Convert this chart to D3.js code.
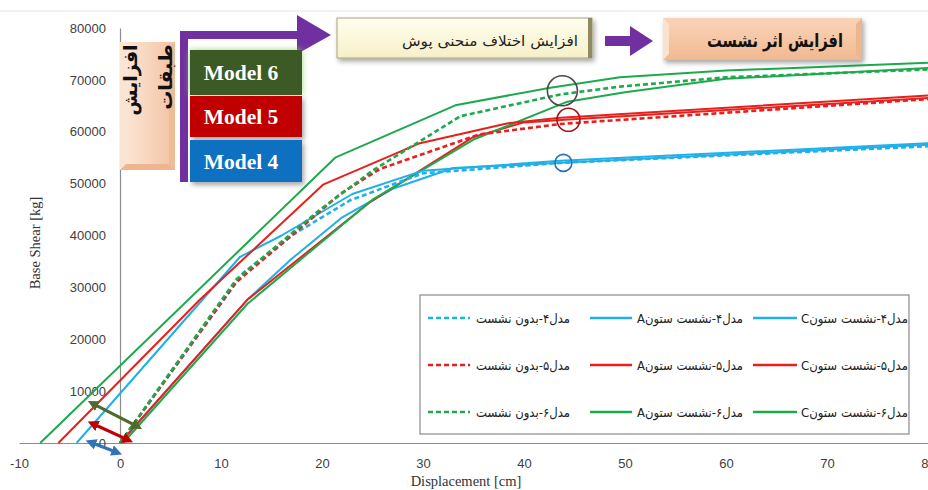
<!DOCTYPE html>
<html>
<head>
<meta charset="utf-8">
<script src="https://cdn.jsdelivr.net/npm/d3@7"></script>
<style>
  body { margin: 0; background: #fff; }
  svg { display: block; }
</style>
</head>
<body>
<svg id="chart"></svg>
<script>
// Pushover curves: [displacement (cm), base shear (kg)]
const m4None = [[0, 0], [12.2, 32800], [17, 40000], [22.8, 46800], [30, 52000], [43.6, 54000], [80, 57200]];
const m4ColA = [[-4.3, 0], [11.9, 35900], [16, 40000], [23, 48000], [30, 52500], [43.6, 54400], [80, 57800]];
const m4ColC = [[0, 0], [12.6, 27600], [17, 35500], [22, 43500], [27, 49000], [33, 53000], [43.6, 54000], [80, 57500]];

const m5None = [[0, 0], [11.5, 31000], [17, 40000], [21.8, 48000], [25.7, 52800], [35.6, 59500], [43.6, 61500], [80, 66300]];
const m5ColA = [[-6.1, 0], [7.9, 27600], [20.1, 49800], [29.7, 57800], [38.3, 61600], [43.6, 62700], [80, 67000]];
const m5ColC = [[0, 0], [12.6, 27600], [24.8, 46500], [35, 59000], [40, 61800], [44, 62300], [80, 66500]];

const m6None = [[0, 0], [11.5, 31500], [19.5, 44500], [25, 52500], [33.7, 63000], [43.6, 67200], [49.5, 68700], [60, 70500], [80, 72000]];
const m6ColA = [[-7.9, 0], [21.3, 55000], [33.2, 65100], [42.6, 68500], [49.5, 70500], [60, 71800], [80, 73300]];
const m6ColC = [[0.3, 0], [12.6, 26800], [25, 46900], [35, 58500], [44.3, 65800], [50, 67600], [60, 70200], [80, 72300]];

const xTicks = [-10, 0, 10, 20, 30, 40, 50, 60, 70, 80];
const yTicks = [0, 10000, 20000, 30000, 40000, 50000, 60000, 70000, 80000];

const legendLabels = [
  ["مدل۴-بدون نشست", "مدل۴-نشست ستونA", "مدل۴-نشست ستونC"],
  ["مدل۵-بدون نشست", "مدل۵-نشست ستونA", "مدل۵-نشست ستونC"],
  ["مدل۶-بدون نشست", "مدل۶-نشست ستونA", "مدل۶-نشست ستونC"]
];
const modelNames = ["Model 6", "Model 5", "Model 4"];

// annotation marks in data units
const circles = [[43.8, 67900, 15, "#4a4a4a"], [44.4, 62300, 11.5, "#a31515"], [43.9, 54000, 8.5, "#2e6fb0"]];
const shiftArrows = [
  [[-2.8, 7700], [1.8, 3100], "#4f6b2c"],
  [[-2.8, 3800], [0.9, 500], "#c00000"],
  [[-3.0, 200], [-0.2, -1900], "#2e75b6"]
];

const width = 928, height = 490;
const blue = "#1fb0ea", red = "#e8201c", green = "#1daa4d";

const series = [
  { data: m4ColC, color: blue, dash: null },
  { data: m5ColC, color: red, dash: null },
  { data: m6ColC, color: green, dash: null },
  { data: m4ColA, color: blue, dash: null },
  { data: m5ColA, color: red, dash: null },
  { data: m6ColA, color: green, dash: null },
  { data: m4None, color: blue, dash: "5,3" },
  { data: m5None, color: red, dash: "5,3" },
  { data: m6None, color: green, dash: "5,3" }
];

const svg = d3.select("#chart").attr("width", width).attr("height", height);

const defs = svg.append("defs");
const shadow = defs.append("filter").attr("id", "shadow").attr("x", "-20%").attr("y", "-20%").attr("width", "150%").attr("height", "160%");
shadow.append("feDropShadow").attr("dx", 2).attr("dy", 3).attr("stdDeviation", 2.5).attr("flood-opacity", 0.35);
const glow = defs.append("filter").attr("id", "glow").attr("x", "-20%").attr("y", "-30%").attr("width", "140%").attr("height", "160%");
glow.append("feDropShadow").attr("dx", 0).attr("dy", 0).attr("stdDeviation", 3).attr("flood-color", "#8fd46a").attr("flood-opacity", 0.9);

const peach = defs.append("linearGradient").attr("id", "peach").attr("x1", 0).attr("x2", 0).attr("y1", 0).attr("y2", 1);
peach.append("stop").attr("offset", "0%").attr("stop-color", "#f9d3b8");
peach.append("stop").attr("offset", "50%").attr("stop-color", "#f6c7a6");
peach.append("stop").attr("offset", "100%").attr("stop-color", "#f0b890");
const peachV = defs.append("linearGradient").attr("id", "peachV");
peachV.append("stop").attr("offset", "0%").attr("stop-color", "#fdeadb");
peachV.append("stop").attr("offset", "100%").attr("stop-color", "#f3c2a2");
const cream = defs.append("linearGradient").attr("id", "cream").attr("x1", 0).attr("x2", 0).attr("y1", 0).attr("y2", 1);
cream.append("stop").attr("offset", "0%").attr("stop-color", "#fffef0");
cream.append("stop").attr("offset", "100%").attr("stop-color", "#f6f0c8");

// top frame line
svg.append("line").attr("x1", 0).attr("x2", width).attr("y1", 11).attr("y2", 11)
  .attr("stroke", "#e4e4e4").attr("stroke-width", 1);

const x = d3.scaleLinear().domain([-10, 80]).range([19, 928]);
const y = d3.scaleLinear().domain([0, 80000]).range([443, 28]);

// axes
const xAxis = svg.append("g")
  .attr("transform", "translate(0," + y(0) + ")")
  .call(d3.axisBottom(x).tickValues(xTicks).tickSize(0).tickPadding(16).tickFormat((d) => String(d)));
const yAxis = svg.append("g")
  .attr("transform", "translate(" + x(0) + ",0)")
  .call(d3.axisLeft(y).tickValues(yTicks).tickSize(0).tickPadding(14).tickFormat((d) => String(d)));
[xAxis, yAxis].forEach((g) => {
  g.select(".domain").attr("stroke", "#8c8c8c").attr("stroke-width", 1.2);
  g.selectAll("text").attr("font-family", "'Liberation Sans', Arial, sans-serif")
    .attr("font-size", 13).attr("fill", "#404040");
});

svg.append("text")
  .attr("transform", "translate(40,243) rotate(-90)")
  .attr("text-anchor", "middle")
  .attr("font-family", "'Liberation Serif', 'Times New Roman', serif")
  .attr("font-size", 14.5).attr("fill", "#333")
  .text("Base Shear [kg]");
svg.append("text")
  .attr("x", 466).attr("y", 486)
  .attr("text-anchor", "middle")
  .attr("font-family", "'Liberation Serif', 'Times New Roman', serif")
  .attr("font-size", 14.5).attr("fill", "#333")
  .text("Displacement [cm]");

// curves
const line = d3.line().x((d) => x(d[0])).y((d) => y(d[1]));
svg.append("g").selectAll("path")
  .data(series)
  .join("path")
  .attr("d", (d) => line(d.data))
  .attr("fill", "none")
  .attr("stroke", (d) => d.color)
  .attr("stroke-width", (d) => (d.dash ? 2.6 : 2))
  .attr("stroke-dasharray", (d) => d.dash)
  .attr("stroke-linejoin", "round");

// highlight circles
svg.append("g").selectAll("circle")
  .data(circles)
  .join("circle")
  .attr("cx", (d) => x(d[0]))
  .attr("cy", (d) => y(d[1]))
  .attr("r", (d) => d[2])
  .attr("fill", "none")
  .attr("stroke", (d) => d[3])
  .attr("stroke-width", 1.6);

// double arrows showing the settlement shift
shiftArrows.forEach((a, i) => {
  const m = defs.append("marker").attr("id", "head" + i)
    .attr("viewBox", "0 0 10 10").attr("refX", 6).attr("refY", 5)
    .attr("markerWidth", 3.4).attr("markerHeight", 3.4)
    .attr("orient", "auto-start-reverse");
  m.append("path").attr("d", "M0,0L10,5L0,10z").attr("fill", a[2]);
  svg.append("line")
    .attr("x1", x(a[0][0])).attr("y1", y(a[0][1]))
    .attr("x2", x(a[1][0])).attr("y2", y(a[1][1]))
    .attr("stroke", a[2]).attr("stroke-width", 3.2)
    .attr("marker-start", "url(#head" + i + ")")
    .attr("marker-end", "url(#head" + i + ")");
});

// legend
const legend = svg.append("g").attr("transform", "translate(420,295)");
legend.append("rect").attr("width", 489).attr("height", 139)
  .attr("fill", "#fff").attr("stroke", "#8a8a8a").attr("stroke-width", 1.2);
const colColors = [blue, red, green];
const colLine = [[8, 50], [170, 212], [333, 377]];
const colTextRight = [150, 323, 488];
const colTextLen = [94, 106, 107];
legendLabels.forEach((row, r) => {
  const ry = 23 + r * 47;
  row.forEach((label, c) => {
    legend.append("line")
      .attr("x1", colLine[c][0]).attr("x2", colLine[c][1])
      .attr("y1", ry).attr("y2", ry)
      .attr("stroke", colColors[r]).attr("stroke-width", 2.4)
      .attr("stroke-dasharray", c === 0 ? "5,3" : null);
    legend.append("text")
      .attr("x", colTextRight[c]).attr("y", ry + 5)
      .attr("text-anchor", "end")
      .attr("font-family", "'DejaVu Sans', 'Noto Sans', sans-serif")
      .attr("font-size", 13).attr("fill", "#222")
      .attr("textLength", colTextLen[c]).attr("lengthAdjust", "spacingAndGlyphs")
      .text("\u202B" + label + "\u202C");
  });
});

// vertical "افزایش طبقات" box
svg.append("rect").attr("x", 120).attr("y", 42).attr("width", 55).attr("height", 128)
  .attr("fill", "url(#peachV)");
svg.append("path").attr("d", "M120,42L126,48L126,164L120,170Z").attr("fill", "#fbe4d2");
svg.append("path").attr("d", "M120,170L126,164L169,164L175,170Z").attr("fill", "#eeb58e");
svg.append("path").attr("d", "M175,42L169,48L169,164L175,170Z").attr("fill", "#f0bb97");
[["افزایش", 130, 80], ["طبقات", 165, 77]].forEach((t) => {
  svg.append("text")
    .attr("transform", "translate(" + t[1] + "," + t[2] + ") rotate(-90)")
    .attr("text-anchor", "middle").attr("dominant-baseline", "central")
    .attr("font-family", "'DejaVu Sans', sans-serif").attr("font-weight", "bold")
    .attr("font-size", 19).attr("fill", "#111")
    .text(t[0]);
});

// purple L arrow
svg.append("path")
  .attr("d", "M180,182L180,31L297,31L297,15L331,35L297,54L297,39L188,39L188,182Z")
  .attr("fill", "#7030a0");

// model boxes
const boxColors = ["#3a5a25", "#c00000", "#0a70c0"];
const boxY = [50, 96, 140];
const boxH = [45, 41, 42];
modelNames.forEach((name, i) => {
  svg.append("rect")
    .attr("x", 190).attr("y", boxY[i]).attr("width", 112).attr("height", boxH[i])
    .attr("fill", boxColors[i])
    .attr("filter", i === 0 ? "url(#glow)" : "url(#shadow)");
  svg.append("text")
    .attr("x", 241).attr("y", boxY[i] + boxH[i] / 2 + 7.5)
    .attr("text-anchor", "middle")
    .attr("font-family", "'Liberation Serif', 'Times New Roman', serif")
    .attr("font-weight", "bold").attr("font-size", 21.5).attr("fill", "#fff")
    .text(name);
});

// cream box
svg.append("rect").attr("x", 337).attr("y", 18).attr("width", 255).attr("height", 40)
  .attr("fill", "url(#cream)").attr("stroke", "#a8a27a").attr("stroke-width", 1)
  .attr("filter", "url(#shadow)");
svg.append("rect").attr("x", 588).attr("y", 18).attr("width", 4).attr("height", 40).attr("fill", "#8f8a62");
svg.append("text")
  .attr("x", 578).attr("y", 46).attr("text-anchor", "end")
  .attr("font-family", "'DejaVu Sans', sans-serif").attr("font-size", 14).attr("fill", "#222")
  .attr("textLength", 176).attr("lengthAdjust", "spacingAndGlyphs")
  .text("افزایش اختلاف منحنی پوش");

// middle purple arrow
svg.append("path")
  .attr("d", "M605,36L630,36L630,26L653,41L630,56L630,46L605,46Z")
  .attr("fill", "#7030a0");

// peach box
svg.append("rect").attr("x", 663).attr("y", 18).attr("width", 199).attr("height", 42)
  .attr("fill", "url(#peach)").attr("filter", "url(#shadow)");
svg.append("path").attr("d", "M663,18L669,24L669,54L663,60Z").attr("fill", "#fbe2cf");
svg.append("path").attr("d", "M862,18L856,24L856,54L862,60Z").attr("fill", "#eeb48c");
svg.append("text")
  .attr("x", 775).attr("y", 47).attr("text-anchor", "middle")
  .attr("font-family", "'DejaVu Sans', sans-serif").attr("font-weight", "bold")
  .attr("font-size", 19).attr("fill", "#111")
  .attr("textLength", 136).attr("lengthAdjust", "spacingAndGlyphs")
  .text("افزایش اثر نشست");
</script>
</body>
</html>
